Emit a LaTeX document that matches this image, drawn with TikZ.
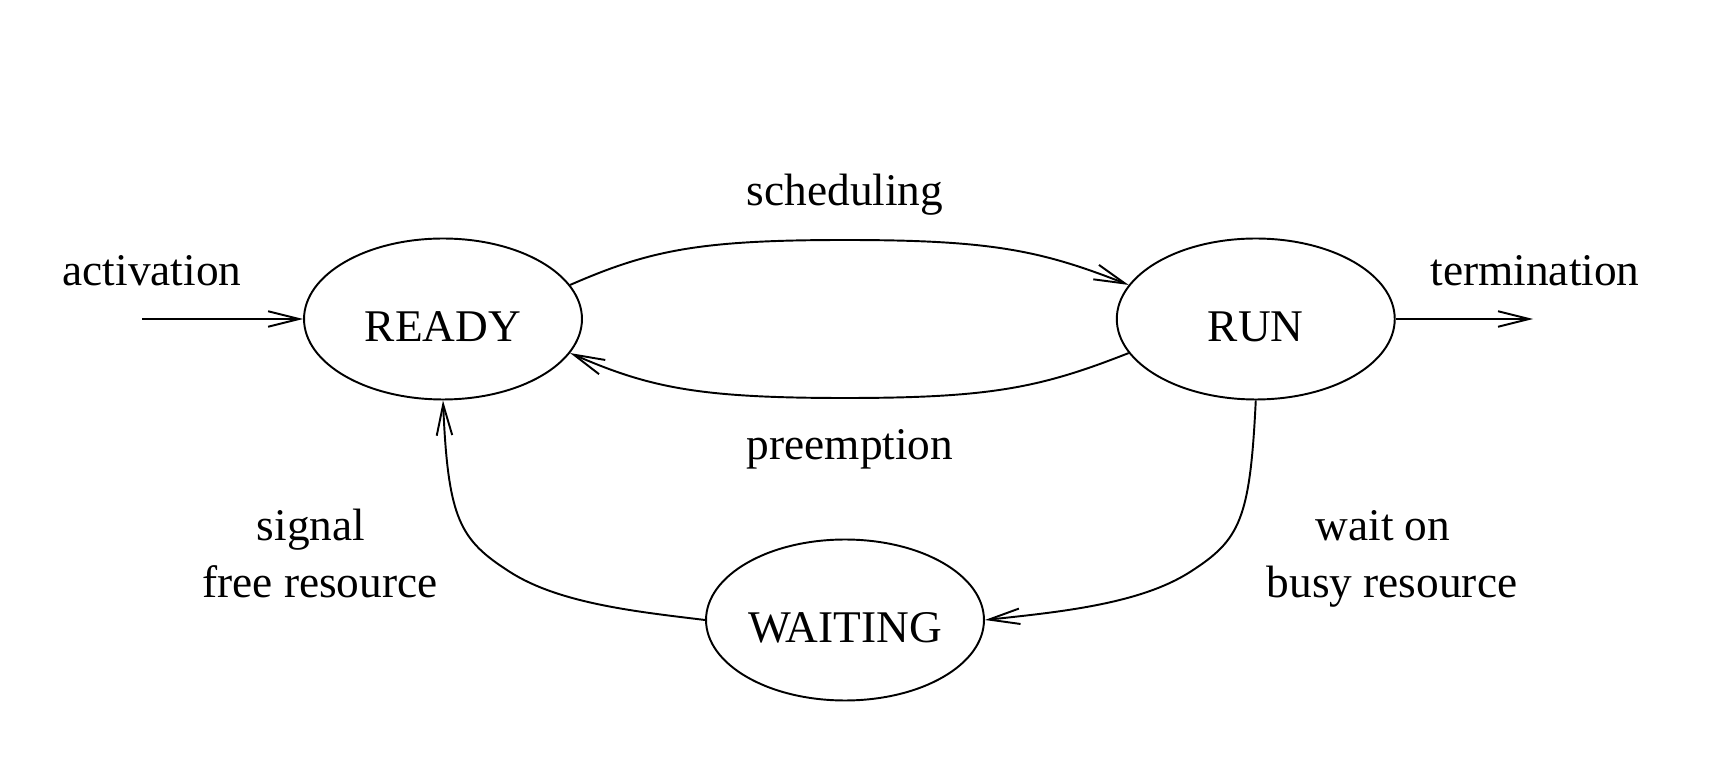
\documentclass[tikz,border=0pt]{standalone}
\usepackage{fontspec}
\setmainfont{Liberation Serif}
\usetikzlibrary{positioning,arrows.meta,shapes.geometric}

\begin{document}
\begin{tikzpicture}[x=0.02cm, y=-0.02cm, font=\fontsize{25.8}{32.8}\selectfont,
		state/.style={draw, ellipse, line width=1.1pt, minimum width=5.56cm, minimum height=3.22cm, inner sep=0pt, text height=26pt, text depth=0pt},
		flow/.style={line width=1.1pt, -{Straight Barb[length=0.62cm, width=0.31cm]}},
		lbl/.style={anchor=base, align=center}]
		\useasboundingbox (0,0) rectangle (1718,766);
		\node[state] (ready) at (443,319) {READY};
		\node[state, right=10.66cm of ready] (run) {RUN};
		\node[state] (waiting) at (845,620) {WAITING};
		\coordinate (actin) at (142,319);
		\coordinate (termout) at (1533,319);
		\draw[flow] (actin) -- (ready.west);
		\draw[flow] (run.east) -- (termout);
		\draw[flow] (ready.15) .. controls (650,250) and (700,240) .. (845,240) .. controls (990,240) and (1040,250) .. (run.165);
		\draw[flow] (run.195) .. controls (1040,388) and (990,398) .. (845,398) .. controls (700,398) and (650,388) .. (ready.-15);
		\draw[flow] (run.south) .. controls (1250,520) and (1240,540) .. (1190,572) .. controls (1140,604) and (1060,612) .. (waiting.east);
		\draw[flow] (waiting.west) .. controls (640,612) and (560,604) .. (510,572) .. controls (460,540) and (448,520) .. (ready.south);
		\node[lbl] (actlbl) at (152,286) {activation};
		\node[lbl] (termlbl) at (1535,286) {termination};
		\node[lbl] (schedlbl) at (845,206) {scheduling};
		\node[lbl] (preemptlbl) at (850,460) {preemption};
		\node[lbl] (waitlbl) at (1392,598) {wait on\hspace*{0.4em}\\busy resource};
		\node[lbl] (signallbl) at (320,598) {signal\hspace*{0.4em}\\free resource};
	\end{tikzpicture}
\end{document}
